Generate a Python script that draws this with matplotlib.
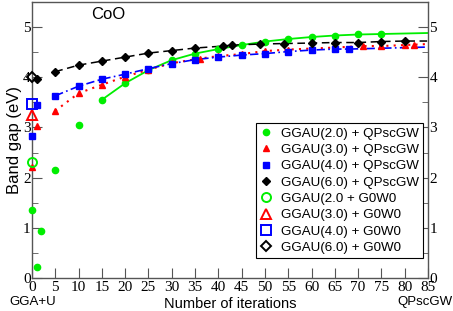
import matplotlib
matplotlib.use("Agg")
import matplotlib.pyplot as plt
from matplotlib.ticker import MultipleLocator

# ---- data ----
# U = 2.0 (green)
g_x = [0, 1, 2, 5, 10, 15, 20, 25, 30, 35, 40, 45, 50, 55, 60, 65, 70, 75]
g_y = [1.35, 0.22, 0.93, 2.15, 3.05, 3.55, 3.88, 4.14, 4.34, 4.47, 4.56, 4.64, 4.71, 4.76, 4.80, 4.83, 4.86, 4.86]
g_line_x = [15, 20, 25, 30, 35, 40, 45, 50, 55, 60, 65, 70, 75, 85]
g_line_y = [3.55, 3.88, 4.14, 4.34, 4.47, 4.56, 4.64, 4.71, 4.76, 4.80, 4.83, 4.85, 4.86, 4.88]

# U = 3.0 (red)
r_x = [0, 1, 5, 10, 15, 20, 25, 30, 36, 40, 45, 50, 55, 60, 65, 71, 75, 80, 82]
r_y = [2.22, 3.03, 3.33, 3.68, 3.85, 4.01, 4.15, 4.28, 4.37, 4.42, 4.46, 4.52, 4.55, 4.57, 4.59, 4.62, 4.62, 4.64, 4.65]
r_line_x = [5, 10, 15, 20, 25, 30, 36, 40, 45, 50, 55, 60, 65, 71, 75, 80, 85]
r_line_y = [3.33, 3.68, 3.85, 4.01, 4.15, 4.28, 4.37, 4.42, 4.46, 4.52, 4.55, 4.57, 4.59, 4.62, 4.62, 4.64, 4.66]

# U = 4.0 (blue)
b_x = [0, 1, 5, 10, 15, 20, 25, 30, 35, 40, 45, 50, 55, 60, 65, 68]
b_y = [2.82, 3.45, 3.63, 3.82, 3.96, 4.06, 4.17, 4.27, 4.35, 4.40, 4.44, 4.47, 4.51, 4.54, 4.56, 4.56]
b_line_x = [5, 10, 15, 20, 25, 30, 35, 40, 45, 50, 55, 60, 65, 68, 85]
b_line_y = [3.63, 3.82, 3.96, 4.06, 4.17, 4.27, 4.35, 4.40, 4.44, 4.47, 4.51, 4.54, 4.56, 4.56, 4.60]

# U = 6.0 (black)
k_x = [1, 5, 10, 15, 20, 25, 30, 35, 41, 43, 49, 54, 60, 65, 70, 75, 80]
k_y = [3.97, 4.11, 4.24, 4.32, 4.40, 4.48, 4.53, 4.58, 4.62, 4.64, 4.66, 4.67, 4.68, 4.69, 4.69, 4.71, 4.72]
k_line_x = [5, 10, 15, 20, 25, 30, 35, 41, 43, 49, 54, 60, 65, 70, 75, 80, 85]
k_line_y = [4.11, 4.24, 4.32, 4.40, 4.48, 4.53, 4.58, 4.62, 4.64, 4.66, 4.67, 4.68, 4.69, 4.69, 4.71, 4.72, 4.72]

# G0W0 (open markers at iteration 0)
g0w0_y = [2.31, 3.25, 3.47, 4.00]

labels_scgw = ["GGAU(2.0) + QPscGW", "GGAU(3.0) + QPscGW", "GGAU(4.0) + QPscGW", "GGAU(6.0) + QPscGW"]
labels_g0w0 = ["GGAU(2.0 + G0W0", "GGAU(3.0) + G0W0", "GGAU(4.0) + G0W0", "GGAU(6.0) + G0W0"]
xticks = list(range(0, 90, 5))
yticks = [0, 1, 2, 3, 4, 5]

colors = ["#00ee00", "#ff0000", "#0000ff", "#000000"]

fig = plt.figure(figsize=(4.53, 3.11), dpi=100)
ax = fig.add_axes([0.0706, 0.106, 0.8742, 0.888])

serif = "Liberation Serif"
sans = "Liberation Sans"

# lines
ax.plot(g_line_x, g_line_y, color=colors[0], lw=1.3, ls="-", zorder=2)
ax.plot(r_line_x, r_line_y, color=colors[1], lw=1.5, ls=(0, (1, 2.5)), zorder=2)
ax.plot(b_line_x, b_line_y, color=colors[2], lw=1.2, ls=(0, (5, 2, 1, 2)), zorder=2)
ax.plot(k_line_x, k_line_y, color=colors[3], lw=1.1, ls=(0, (5, 3)), zorder=2)

# filled points
h = []
h.append(ax.plot(g_x, g_y, ls="none", marker="o", ms=4.5, color=colors[0], mec=colors[0], zorder=3)[0])
h.append(ax.plot(r_x, r_y, ls="none", marker="^", ms=5, color=colors[1], mec=colors[1], zorder=4)[0])
h.append(ax.plot(b_x, b_y, ls="none", marker="s", ms=4.2, color=colors[2], mec=colors[2], zorder=5)[0])
h.append(ax.plot(k_x, k_y, ls="none", marker="D", ms=3.8, color=colors[3], mec=colors[3], zorder=6)[0])

# open G0W0 markers
omarkers = ["o", "^", "s", "D"]
osizes = [6.5, 7, 6.5, 5]
for i in range(4):
    h.append(ax.plot([0], [g0w0_y[i]], ls="none", marker=omarkers[i], ms=osizes[i],
                     mfc="none", mec=colors[i], mew=1.4, zorder=7)[0])
for l in h:
    l.set_clip_on(False)

ax.set_xlim(0, 85)
ax.set_ylim(0, 5.5)
ax.set_xticks(xticks)
ax.set_yticks(yticks)
ax.yaxis.set_minor_locator(MultipleLocator(0.5))
ax.tick_params(axis="both", which="both", direction="in", color="#555555")
ax.tick_params(axis="y", which="major", length=7, right=True, labelright=True, pad=1)
ax.tick_params(axis="y", which="minor", length=4, right=True)
ax.tick_params(axis="x", which="major", length=7, pad=2)
for t in ax.xaxis.get_major_ticks():
    t.label1.set_fontfamily(serif)
    t.label1.set_fontsize(11)
for t in ax.yaxis.get_major_ticks():
    t.label1.set_fontfamily(serif)
    t.label1.set_fontsize(11)
    t.label2.set_fontfamily(serif)
    t.label2.set_fontsize(11)
for sp in ax.spines.values():
    sp.set_color("#555555")
    sp.set_linewidth(1.0)

ax.set_xlabel("Number of iterations", fontfamily=sans, fontsize=10.5, labelpad=2)
ax.set_ylabel("Band gap (eV)", fontfamily=sans, fontsize=12, labelpad=1)
fig.text(33 / 453, 1 - 296 / 311, "GGA+U", ha="center", va="top",
         fontfamily=sans, fontsize=9.5)
fig.text(0.998, 1 - 296 / 311, "QPscGW", ha="right", va="top",
         fontfamily=sans, fontsize=9.5)
ax.text(0.192, 0.953, "CoO", transform=ax.transAxes, ha="center", va="center",
        fontfamily=sans, fontsize=12)

leg = ax.legend(h, labels_scgw + labels_g0w0, loc="lower right", bbox_to_anchor=(0.9874, 0.072),
                bbox_transform=ax.transAxes, borderaxespad=0,
                prop={"family": sans, "size": 9.6}, frameon=True, fancybox=False,
                edgecolor="black", framealpha=1, borderpad=0.3, labelspacing=0.3,
                handlelength=1.0, handletextpad=0.6)
leg.get_frame().set_linewidth(0.8)

fig.savefig("out.png", dpi=100)
